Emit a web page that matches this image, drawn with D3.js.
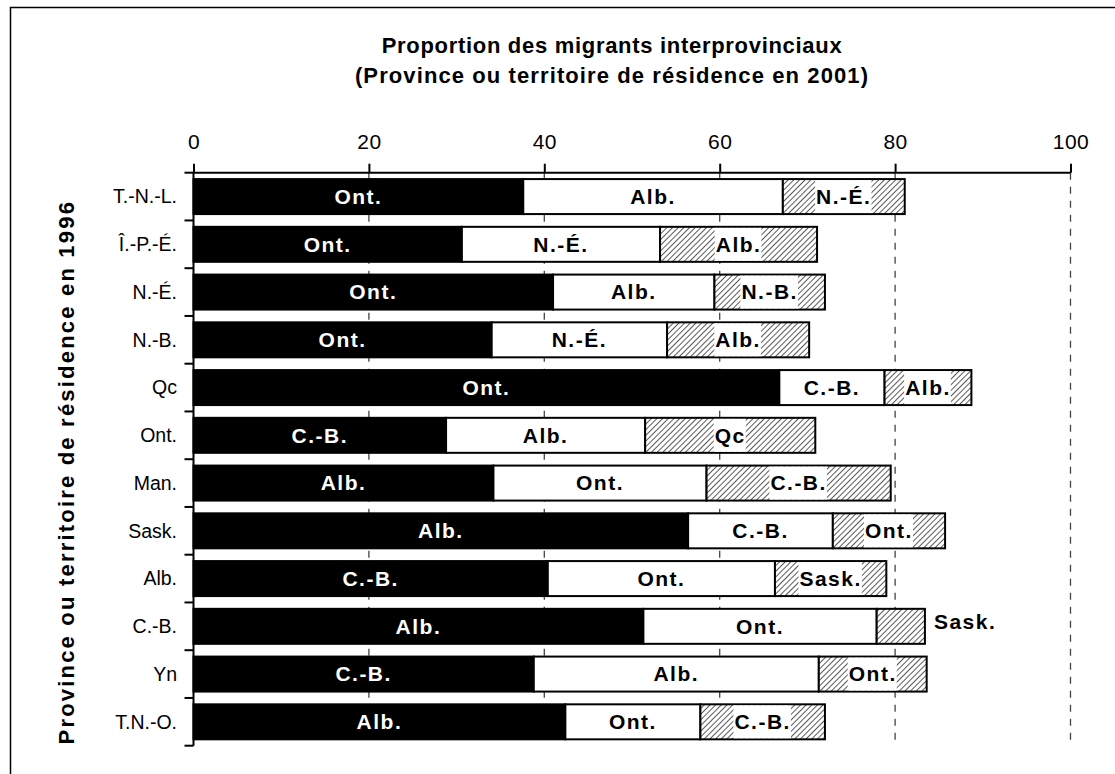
<!DOCTYPE html>
<html>
<head>
<meta charset="utf-8">
<script src="https://cdn.jsdelivr.net/npm/d3@7/dist/d3.min.js"></script>
<style>
  html, body { margin: 0; padding: 0; background: #fff; }
  svg { display: block; font-family: "Liberation Sans", Arial, sans-serif; }
</style>
</head>
<body>
<svg id="chart" width="1115" height="774"></svg>
<script>
// Province or territory of residence in 1996 (rows, top to bottom)
const provinces = ["T.-N.-L.", "Î.-P.-É.", "N.-É.", "N.-B.", "Qc", "Ont.", "Man.", "Sask.", "Alb.", "C.-B.", "Yn", "T.N.-O."];

// First, second and third destination in 2001 (share of interprovincial migrants, %)
const firstDest  = ["Ont.", "Ont.", "Ont.", "Ont.", "Ont.", "C.-B.", "Alb.", "Alb.", "C.-B.", "Alb.", "C.-B.", "Alb."];
const firstVal   = [37.6, 30.6, 41.0, 34.0, 66.8, 28.8, 34.2, 56.4, 40.4, 51.3, 38.8, 42.4];

const secondDest = ["Alb.", "N.-É.", "Alb.", "N.-É.", "C.-B.", "Alb.", "Ont.", "C.-B.", "Ont.", "Ont.", "Alb.", "Ont."];
const secondVal  = [29.6, 22.6, 18.4, 20.0, 12.0, 22.7, 24.3, 16.5, 25.9, 26.6, 32.5, 15.4];

const thirdDest  = ["N.-É.", "Alb.", "N.-B.", "Alb.", "Alb.", "Qc", "C.-B.", "Ont.", "Sask.", "Sask.", "Ont.", "C.-B."];
const thirdVal   = [13.9, 17.9, 12.6, 16.2, 9.9, 19.4, 21.0, 12.8, 12.7, 5.5, 12.3, 14.2];

const xTicks = [0, 20, 40, 60, 80, 100];

const titleLines = ["Proportion des migrants interprovinciaux", "(Province ou territoire de résidence en 2001)"];
const yTitle = "Province ou territoire de résidence en 1996";

const svg = d3.select("#chart");

// outer frame (only its top-left corner falls inside the canvas)
svg.append("rect")
  .attr("x", 10.5).attr("y", 7.5).attr("width", 1200).attr("height", 900)
  .attr("fill", "none").attr("stroke", "#000").attr("stroke-width", 1.5);

const x = d3.scaleLinear().domain([0, 100]).range([193.5, 1070.5]);
const y = d3.scaleBand().domain(provinces).range([172.7, 745.7]).paddingInner(0.267).paddingOuter(0.1335);

// diagonal hatch for the third destination
const defs = svg.append("defs");
const pat = defs.append("pattern")
  .attr("id", "hatch").attr("patternUnits", "userSpaceOnUse")
  .attr("width", 4).attr("height", 4)
  .attr("patternTransform", "rotate(45)");
pat.append("rect").attr("width", 4).attr("height", 4).attr("fill", "#fff");
pat.append("line").attr("x1", 0).attr("y1", 0).attr("x2", 0).attr("y2", 4)
  .attr("stroke", "#222").attr("stroke-width", 1.5);

// title
svg.append("g").selectAll("text").data(titleLines).join("text")
  .attr("x", 612).attr("y", (d, i) => 53 + i * 30)
  .attr("text-anchor", "middle")
  .attr("font-size", 22).attr("font-weight", "bold")
  .attr("letter-spacing", (d, i) => i === 0 ? 0.7 : 1.1)
  .text(d => d);

// dashed vertical gridlines
svg.append("g").selectAll("line").data(xTicks.slice(1)).join("line")
  .attr("x1", d => x(d)).attr("x2", d => x(d))
  .attr("y1", y.range()[0]).attr("y2", y.range()[1])
  .attr("stroke", "#444").attr("stroke-width", 1.3)
  .attr("stroke-dasharray", "7,7");

// top axis
const xAxis = d3.axisTop(x).tickValues(xTicks).tickSize(9).tickPadding(15).tickFormat(d3.format("d"));
const gx = svg.append("g").attr("transform", `translate(0,${y.range()[0]})`).call(xAxis);
gx.select(".domain").attr("stroke-width", 2).attr("d", `M${x(0)},0H${x(100)}`);
gx.selectAll(".tick line").attr("stroke-width", 2);
gx.selectAll(".tick text").attr("font-size", 21).attr("fill", "#000")
  .attr("font-family", "Liberation Sans, Arial, sans-serif")
  .attr("letter-spacing", 0.5);

// left axis with ticks at band boundaries
const step = y.step();
const boundaries = d3.range(provinces.length + 1).map(i => y.range()[0] + i * step);
const gy = svg.append("g");
gy.append("line").attr("x1", x(0)).attr("x2", x(0))
  .attr("y1", y.range()[0]).attr("y2", y.range()[1])
  .attr("stroke", "#000").attr("stroke-width", 2);
gy.selectAll("line.b").data(boundaries).join("line").attr("class", "b")
  .attr("x1", x(0) - 9).attr("x2", x(0))
  .attr("y1", d => d).attr("y2", d => d)
  .attr("stroke", "#000").attr("stroke-width", 2);
gy.selectAll("text").data(provinces).join("text")
  .attr("x", 177).attr("y", d => y(d) + y.bandwidth() / 2)
  .attr("dy", "0.35em").attr("text-anchor", "end")
  .attr("font-size", 19.5)
  .text(d => d);

// y title
svg.append("text")
  .attr("transform", `translate(74,${(y.range()[0] + y.range()[1]) / 2 + 13}) rotate(-90)`)
  .attr("text-anchor", "middle")
  .attr("font-size", 22).attr("font-weight", "bold").attr("letter-spacing", 2.2)
  .text(yTitle);

// stacked segments
const rows = provinces.map((p, i) => {
  const a = firstVal[i], b = secondVal[i], c = thirdVal[i];
  return [
    { p, kind: 0, name: firstDest[i],  x0: 0,     x1: a },
    { p, kind: 1, name: secondDest[i], x0: a,     x1: a + b },
    { p, kind: 2, name: thirdDest[i],  x0: a + b, x1: a + b + c }
  ];
}).flat();

const fills = ["#000", "#fff", "url(#hatch)"];
const bars = svg.append("g");
bars.selectAll("rect").data(rows).join("rect")
  .attr("x", d => x(d.x0)).attr("width", d => x(d.x1) - x(d.x0))
  .attr("y", d => y(d.p)).attr("height", y.bandwidth())
  .attr("fill", d => fills[d.kind])
  .attr("stroke", "#000").attr("stroke-width", 2);

// labels
const lab = svg.append("g")
  .attr("font-size", 21).attr("font-weight", "bold").attr("letter-spacing", 1.5);

rows.forEach(d => {
  const w = x(d.x1) - x(d.x0);
  const cy = y(d.p) + y.bandwidth() / 2;
  const cx = (x(d.x0) + x(d.x1)) / 2;
  const outside = d.kind === 2 && w < 60;
  if (outside) {
    lab.append("text").attr("x", x(d.x1) + 9).attr("y", cy - 5).attr("dy", "0.35em")
      .attr("text-anchor", "start").attr("fill", "#000").text(d.name);
    return;
  }
  const t = lab.append("text").attr("x", cx).attr("y", cy).attr("dy", "0.35em")
    .attr("text-anchor", "middle")
    .attr("fill", d.kind === 0 ? "#fff" : "#000")
    .text(d.name);
  if (d.kind === 2) {
    const bb = t.node().getBBox();
    lab.insert("rect", () => t.node())
      .attr("x", bb.x - 1).attr("width", bb.width + 1)
      .attr("y", y(d.p) + 1).attr("height", y.bandwidth() - 2)
      .attr("fill", "#fff");
  }
});
</script>
</body>
</html>
